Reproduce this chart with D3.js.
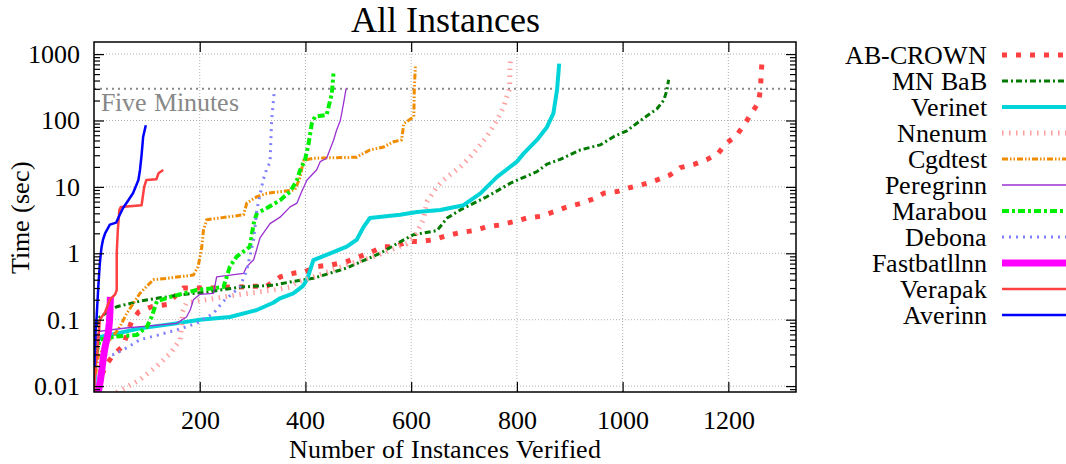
<!DOCTYPE html>
<html><head><meta charset="utf-8"><script src="https://cdn.jsdelivr.net/npm/d3@7"></script>
<style>
  @font-face {
    font-family: "ChartSerif";
    src: local("Liberation Serif"), local("LiberationSerif"), local("LiberationSerif-Regular"), local("Tinos"), local("Tinos-Regular"), local("Times New Roman");
  }
  #chart text { font-family: "ChartSerif", "Liberation Serif", Tinos, "Times New Roman" !important; }
</style>
</head>
<body style="margin:0">
<svg id="chart" width="1066" height="464"></svg>
<script>
// cactus plot data: [instances verified, time in sec]
var abCrown = [[15,0.015],[25,0.022],[37,0.03],[55,0.04],[71,0.094],[84,0.13],[109,0.157],[138,0.17],[169,0.3],[194,0.3],[220,0.3],[251,0.31],[276,0.31],[295,0.32],[327,0.32],[352,0.44],[377,0.5],[399,0.53],[421,0.63],[450,0.67],[478,0.75],[519,1.0],[548,1.26],[570,1.26],[592,1.5],[617,1.5],[642,1.6],[668,1.85],[693,2.05],[718,2.2],[743,2.5],[768,2.67],[794,3.0],[819,3.4],[844,3.6],[869,4.2],[895,5],[920,5.6],[945,6.6],[964,8],[989,8.5],[1015,9.8],[1040,11],[1065,12.7],[1089,15],[1109,19.5],[1136,22],[1160,26],[1180,31.6],[1196,45],[1215,59],[1230,86],[1244,130],[1257,185],[1261,305],[1262,500],[1264,810]];
var mnBab = [[1,0.03],[4,0.08],[11,0.11],[43,0.157],[87,0.19],[119,0.21],[169,0.24],[213,0.26],[276,0.31],[339,0.33],[371,0.37],[415,0.42],[478,0.6],[541,1.0],[580,1.5],[604,1.9],[649,2.2],[668,3.4],[693,4.5],[743,7.1],[787,11.3],[838,17],[857,22],[882,26],[920,36],[958,43],[983,57],[1008,70],[1034,100],[1065,150],[1078,203],[1084,290],[1087,410]];
var verinet = [[1,0.01],[3,0.03],[6,0.045],[11,0.055],[30,0.059],[87,0.074],[156,0.088],[200,0.1],[257,0.11],[308,0.14],[339,0.18],[352,0.21],[377,0.25],[395,0.32],[403,0.4],[415,0.79],[447,1.0],[478,1.26],[497,1.6],[510,2.5],[522,3.4],[579,3.8],[611,4.2],[655,4.5],[699,5.3],[731,8],[762,14],[800,24],[813,32],[838,51],[857,80],[869,128],[876,290],[880,720]];
var nnenum = [[43,0.008],[87,0.0125],[119,0.02],[144,0.031],[163,0.05],[166,0.088],[167,0.13],[175,0.18],[213,0.2],[276,0.24],[339,0.28],[371,0.31],[384,0.37],[415,0.44],[478,0.67],[529,0.89],[592,1.4],[610,2],[623,3.2],[630,6],[649,10],[661,12.7],[693,20],[718,32],[743,57],[762,100],[775,160],[781,228],[786,300],[787,600],[788,900]];
var cgdtest = [[3,0.015],[8,0.028],[20,0.04],[35,0.055],[49,0.078],[62,0.125],[87,0.25],[112,0.4],[138,0.42],[188,0.47],[197,0.63],[204,1.26],[207,2.2],[213,3.2],[283,3.8],[289,5.7],[308,7.1],[327,8],[380,9],[390,14],[396,25],[415,27],[497,28],[503,30],[522,36],[548,40],[567,48],[582,51],[586,90],[598,104],[605,114],[606,320],[608,650]];
var peregrinn = [[2,0.03],[6,0.06],[11,0.067],[60,0.075],[100,0.08],[156,0.088],[175,0.11],[182,0.14],[188,0.2],[200,0.24],[226,0.25],[232,0.44],[283,0.5],[289,0.63],[302,0.8],[314,1.7],[333,2.8],[352,3.5],[371,5.0],[384,5.7],[393,8.5],[403,12.7],[421,18],[428,24],[440,27],[453,50],[459,72],[466,100],[472,180],[477,305]];
var marabou = [[4,0.03],[11,0.05],[43,0.056],[81,0.059],[100,0.078],[109,0.11],[119,0.19],[144,0.22],[194,0.28],[245,0.31],[257,0.63],[270,0.89],[295,1.26],[302,2.8],[308,4],[327,4.8],[352,6.3],[371,8.5],[384,12.7],[390,18],[399,25],[406,45],[412,90],[418,114],[440,121],[450,256],[453,510]];
var debona = [[14,0.02],[17,0.03],[37,0.03],[55,0.035],[87,0.05],[119,0.058],[156,0.07],[194,0.088],[226,0.125],[245,0.19],[276,0.31],[289,0.56],[302,1.6],[308,4.5],[320,12.7],[328,20],[333,23],[336,100],[341,270]];
var fastbatllnn = [[8,0.008],[12,0.012],[15,0.018],[18,0.028],[21,0.039],[24,0.05],[27,0.063],[29,0.09],[30,0.12],[31,0.22]];
var verapak = [[0,0.008],[3,0.02],[6,0.03],[9,0.06],[11,0.1],[21,0.13],[30,0.2],[40,0.24],[43,0.28],[43,1],[45,2.2],[48,4.5],[51,5],[90,5.3],[95,10],[99,12.7],[118,13],[122,16],[131,18]];
var averinn = [[1,0.02],[2,0.05],[5,0.11],[8,0.3],[11,0.7],[14,1.2],[17,1.6],[21,2.0],[30,2.7],[42,2.9],[50,4],[55,4.8],[65,6.3],[74,8.1],[84,12.7],[87,18],[90,30],[93,57],[98,85]];

var names = ["AB-CROWN","MN BaB","Verinet","Nnenum","Cgdtest","Peregrinn","Marabou","Debona","Fastbatllnn","Verapak","Averinn"];
var seriesData = [abCrown, mnBab, verinet, nnenum, cgdtest, peregrinn, marabou, debona, fastbatllnn, verapak, averinn];
var xTicks = [200, 400, 600, 800, 1000, 1200];
var yTicks = [0.01, 0.1, 1, 10, 100, 1000];
var fiveMinutes = 300;

// line look per series (gnuplot-ish)
var styles = [
  { color: "#ff4040", width: 5,   dash: "5,9" },
  { color: "#007a00", width: 3,   dash: "6,3,2,3" },
  { color: "#00d4d8", width: 4,   dash: null },
  { color: "#ffa0a0", width: 5,   dash: "1.5,5.5" },
  { color: "#f08c00", width: 3,   dash: "6,2,1.5,2,1.5,2" },
  { color: "#9b30d0", width: 1.3, dash: null },
  { color: "#00ee00", width: 4,   dash: "7,3,3,3" },
  { color: "#8080ff", width: 3,   dash: "2,5" },
  { color: "#ff00ff", width: 7,   dash: null },
  { color: "#ff4040", width: 2.5, dash: null },
  { color: "#0000ff", width: 2.5, dash: null }
];

function drawChart() {
  var svg = d3.select("#chart");
  var pLeft = 94, pRight = 796, pTop = 42, pBottom = 392;

  var x = d3.scaleLinear().domain([0, 1328]).range([pLeft, pRight]);
  var y = d3.scaleLog().domain([0.00815, 1521]).range([pBottom, pTop]);

  svg.append("defs").append("clipPath").attr("id", "plotClip")
    .append("rect").attr("x", pLeft).attr("y", pTop)
    .attr("width", pRight - pLeft).attr("height", pBottom - pTop);

  // grid
  var grid = svg.append("g");
  grid.selectAll("line.gx").data(xTicks).enter().append("line")
    .attr("x1", function(d) { return x(d); }).attr("x2", function(d) { return x(d); })
    .attr("y1", pTop).attr("y2", pBottom);
  grid.selectAll("line.gy").data(yTicks).enter().append("line")
    .attr("y1", function(d) { return y(d); }).attr("y2", function(d) { return y(d); })
    .attr("x1", pLeft).attr("x2", pRight);
  grid.selectAll("line").attr("stroke", "#b0b0b0").attr("stroke-width", 1).attr("stroke-dasharray", "1,2");

  // five minute line
  svg.append("line")
    .attr("x1", pLeft).attr("x2", pRight)
    .attr("y1", y(fiveMinutes)).attr("y2", y(fiveMinutes))
    .attr("stroke", "#888").attr("stroke-width", 2).attr("stroke-dasharray", "2,4");
  svg.append("text").attr("x", pLeft + 7).attr("y", 111)
    .attr("font-size", 26).attr("fill", "#888").text("Five Minutes");

  // series
  var line = d3.line()
    .x(function(d) { return x(d[0]); })
    .y(function(d) { return y(d[1]); });

  var plot = svg.append("g").attr("clip-path", "url(#plotClip)");
  seriesData.forEach(function(data, i) {
    var s = styles[i];
    plot.append("path")
      .datum(data)
      .attr("d", line)
      .attr("fill", "none")
      .attr("stroke", s.color)
      .attr("stroke-width", s.width)
      .attr("stroke-linejoin", "round")
      .attr("stroke-dasharray", s.dash);
  });

  // axes (ticks inward, mirrored)
  var minorY = [];
  d3.range(-3, 4).forEach(function(p) {
    d3.range(2, 10).forEach(function(m) {
      var v = m * Math.pow(10, p);
      if (v >= 0.00815 && v <= 1521) minorY.push(v);
    });
  });

  svg.append("g").attr("transform", "translate(0," + pBottom + ")")
    .call(d3.axisBottom(x).tickValues(xTicks).tickSize(-10).tickPadding(19).tickFormat(d3.format("d")));
  svg.append("g").attr("transform", "translate(0," + pTop + ")")
    .call(d3.axisTop(x).tickValues(xTicks).tickSize(-10).tickFormat(""));
  svg.append("g").attr("transform", "translate(" + pLeft + ",0)")
    .call(d3.axisLeft(y).tickValues(minorY).tickSize(-6).tickFormat(""));
  svg.append("g").attr("transform", "translate(" + pLeft + ",0)")
    .call(d3.axisLeft(y).tickValues(yTicks).tickSize(-10).tickPadding(14).tickFormat(function(d) { return d3.format("~g")(d); }));
  svg.append("g").attr("transform", "translate(" + pRight + ",0)")
    .call(d3.axisRight(y).tickValues(minorY).tickSize(-6).tickFormat(""));
  svg.append("g").attr("transform", "translate(" + pRight + ",0)")
    .call(d3.axisRight(y).tickValues(yTicks).tickSize(-10).tickFormat(""));

  svg.selectAll(".domain").remove();
  svg.selectAll(".tick line").attr("stroke", "#000").attr("stroke-width", 1.2);
  svg.selectAll(".tick text").attr("font-size", 26).attr("fill", "#000");

  svg.append("rect").attr("x", pLeft).attr("y", pTop)
    .attr("width", pRight - pLeft).attr("height", pBottom - pTop)
    .attr("fill", "none").attr("stroke", "#000").attr("stroke-width", 1.5);

  // titles
  svg.append("text").attr("x", (pLeft + pRight) / 2).attr("y", 32)
    .attr("text-anchor", "middle").attr("font-size", 36).text("All Instances");
  svg.append("text").attr("x", (pLeft + pRight) / 2).attr("y", 458)
    .attr("text-anchor", "middle").attr("font-size", 26).text("Number of Instances Verified");
  svg.append("text").attr("transform", "translate(29,217) rotate(-90)")
    .attr("text-anchor", "middle").attr("font-size", 26).text("Time (sec)");

  // legend
  var legend = svg.append("g");
  names.forEach(function(name, i) {
    var ly = 55 + i * 26;
    var s = styles[i];
    legend.append("text").attr("x", 987).attr("y", ly + 9)
      .attr("text-anchor", "end").attr("font-size", 26).text(name);
    legend.append("line").attr("x1", 1002).attr("x2", 1070)
      .attr("y1", ly).attr("y2", ly)
      .attr("stroke", s.color).attr("stroke-width", s.width)
      .attr("stroke-dasharray", s.dash);
  });
}

drawChart();
</script>
</body>
</html>
